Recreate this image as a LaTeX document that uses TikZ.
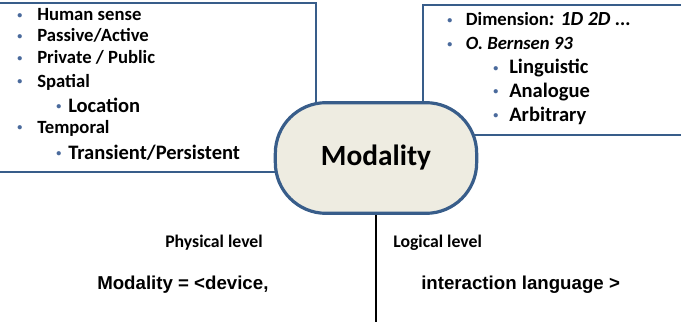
\documentclass[tikz,border=0pt]{standalone}
\usepackage{fontspec}
\setmainfont{Carlito}
\newfontfamily\arialfont{Liberation Sans}
\usetikzlibrary{positioning}
\definecolor{modblue}{HTML}{385D8A}
\definecolor{modfill}{HTML}{EEECE1}
\definecolor{bulblue}{HTML}{4A6A9C}

% bullets of the two lists
\newcommand{\dotmark}{\raisebox{1.6pt}{\textcolor{bulblue}{\fontsize{7.5}{8}\selectfont\textbullet}}}
\newcommand{\bulA}{\makebox[15pt][l]{\dotmark}}
\newcommand{\bulB}{\makebox[9pt][l]{\dotmark}}
\newcommand{\bulC}{\makebox[14pt][l]{\dotmark}}
\newcommand{\bulD}{\makebox[12pt][l]{\dotmark}}

\begin{document}
\begin{tikzpicture}[x=0.75pt, y=-0.75pt,
    box/.style={draw=modblue, line width=2.2pt},
    topitem/.style={anchor=base west, inner sep=0pt, font=\fontsize{14}{16}\selectfont\bfseries},
    subitem/.style={anchor=base west, inner sep=0pt, font=\fontsize{15.4}{18}\selectfont\bfseries},
    modal/.style={draw=modblue, fill=modfill, line width=2.4pt, rounded corners=38pt,
        minimum width=151pt, minimum height=83pt, font=\fontsize{22}{26}\selectfont\bfseries},
    level/.style={inner sep=0pt, font=\fontsize{13.3}{15}\selectfont\bfseries},
    formula/.style={anchor=base west, inner sep=0pt, font=\arialfont\fontsize{14}{17}\selectfont\bfseries}]

    \useasboundingbox (0,0) rectangle (681,321);

    % Boxes
    \draw[box] (-5,3) rectangle (316,172);
    \draw[box] (423,5) rectangle (690,135);

    % Left list
    \node[topitem] (sense) at (17,21) {\bulA Human sense};
    \node[topitem] (passive) at (17,42) {\bulA Passive/Active};
    \node[topitem] (private) at (17,64) {\bulA Private / Public};
    \node[topitem] (spatial) at (17,87) {\bulA Spatial};
    \node[subitem] (location) at (56,112) {\bulB Location};
    \node[topitem] (temporal) at (17,133) {\bulA Temporal};
    \node[subitem] (transient) at (56,159) {\bulB Transient/Persistent};

    % Right list
    \node[topitem] (dimension) at (447,26) {\bulC Dimension\textit{\fontsize{15}{16}\selectfont: 1D 2D ...}};
    \node[topitem] (bernsen) at (447,50) {\bulC \textit{O. Bernsen 93}};
    \node[subitem] (linguistic) at (493,74) {\bulD Linguistic};
    \node[subitem] (analogue) at (493,97) {\bulD Analogue};
    \node[subitem] (arbitrary) at (493,121) {\bulD Arbitrary};

    % Modality
    \node[modal] (modality) at (376,158) {Modality};

    % Levels
    \coordinate (lineend) at (376,325);
    \draw[line width=1.6pt] (modality.south) -- (lineend);
    \node[level, anchor=base] (physical) at (214,247) {Physical level};
    \node[level, anchor=base west] (logical) at (393,247) {Logical level};
    \node[formula] (device) at (97,289) {Modality = <device,};
    \node[formula] (language) at (421,289) {interaction language >};

\end{tikzpicture}
\end{document}
